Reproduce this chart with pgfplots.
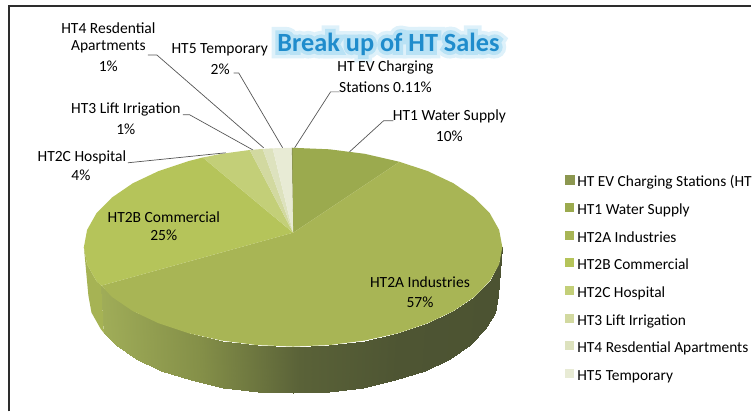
\documentclass[border=0pt]{standalone}
\usepackage{pgfplots}
\usepackage{fontspec}
\setmainfont{Carlito}
\newfontfamily\glowA[BoldFeatures={FakeBold=55}]{Carlito}
\newfontfamily\glowB[BoldFeatures={FakeBold=28}]{Carlito}
\pgfplotsset{compat=1.18}
\definecolor{cEV}{RGB}{140,151,80}
\definecolor{cA}{RGB}{155,170,78}
\definecolor{cB}{RGB}{168,181,85}
\definecolor{cC}{RGB}{181,196,90}
\definecolor{cD}{RGB}{195,207,120}
\definecolor{cE}{RGB}{210,217,160}
\definecolor{cF}{RGB}{221,226,190}
\definecolor{cG}{RGB}{232,235,213}
\definecolor{leader}{RGB}{85,85,85}
\definecolor{frame}{RGB}{45,45,45}
\definecolor{titleblue}{RGB}{31,140,204}
\definecolor{glow}{RGB}{222,241,250}
\definecolor{glowb}{RGB}{185,226,245}
\newcommand{\lab}[3]{\node[align=center,font=\fontsize{15.6}{18}\selectfont,text=black,inner sep=0pt] at (axis cs:#1,#2) {#3};}
\begin{document}
\begin{tikzpicture}
\begin{axis}[
  scale only axis, width=752bp, height=412bp,
  xmin=0, xmax=752, ymin=0, ymax=412, y dir=reverse,
  hide axis, clip=false,
  colormap={side}{rgb255=(160,173,88) rgb255=(132,143,72) rgb255=(90,98,56) rgb255=(78,85,51) rgb255=(76,83,50)},
  point meta min=100, point meta max=500,
  legend style={draw=none, fill=none, at={(axis cs:566,175.5)}, anchor=north west,
     font=\fontsize{15.5}{18}\selectfont, row sep=13.2bp, inner sep=0pt, outer sep=0pt,
     legend cell align=left, nodes={inner sep=0pt, text height=10bp, text depth=3bp}},
  legend image code/.code={\fill[#1] (0bp,-1bp) rectangle (9bp,8bp); \path (12bp,0bp);},
]
\path (axis cs:0,0) rectangle (axis cs:752,412);
% title first, so that its glow lies under the labels
\node[font=\fontsize{26.4}{30}\selectfont\glowA\bfseries,text=glow,inner sep=0pt] at (axis cs:389,44) {Break up of HT Sales};
\node[font=\fontsize{26.4}{30}\selectfont\glowB\bfseries,text=glowb,inner sep=0pt] at (axis cs:389,44) {Break up of HT Sales};
\node[font=\fontsize{26.4}{30}\selectfont\bfseries,text=titleblue,inner sep=0pt] at (axis cs:389,44) {Break up of HT Sales};
% frame
\addplot[frame, line width=2bp, forget plot] coordinates {(9.2,412) (9.2,6.5) (752,6.5)};
% side of HT2B
\addplot[fill={rgb,255:red,166;green,179;blue,84}, draw=none, forget plot] coordinates {
 (84,247.5) (87.2,264.8) (96.6,281.5) (101.5,286) (104.1,333.5) (100.9,329.5) (91.6,313) (88.5,296)} -- cycle;
% side of HT2A
\addplot[surf, shader=interp, mesh/rows=2, point meta=explicit, forget plot] table[meta=m] {
x y m
101.5 286 101.5
112.1 297.3 112.1
133.0 311.5 133
158.8 323.7 158.8
188.8 333.7 188.8
221.9 341.0 221.9
257.1 345.5 257.1
293.5 347 293.5
329.9 345.5 329.9
365.1 341.0 365.1
398.3 333.7 398.3
428.2 323.7 428.2
454.0 311.5 454
474.9 297.3 474.9
490.4 281.5 490.4
499.8 264.8 499.8
503 247.5 503
104.1 333.5 101.5
116 345 112.1
136.5 359 133
161.7 371.1 158.8
191 380.9 188.8
223.4 388.1 221.9
257.9 392.5 257.1
293.5 394 293.5
329.1 392.5 329.9
363.6 388.1 365.1
396 380.9 398.3
425.3 371.1 428.2
450.5 359 454
471 345 474.9
486.1 329.5 490.4
495.4 313 499.8
498.5 296 503
};
% top faces
\addplot[fill=cEV, draw=cEV, line width=0.1bp] coordinates {(293.5,233) (292,148) (293.5,148)} -- cycle;
\addlegendentry{HT EV Charging Stations (HT}
\addplot[fill=cA, draw=none] coordinates {(293.5,233) (293.5,148) (329.9,149.5) (365.1,154) (400,162)} -- cycle;
\addlegendentry{HT1 Water Supply}
\addplot[fill=cB, draw=none] coordinates {(293.5,233) (400,162) (428.2,171.3) (454,183.5) (474.9,197.8) (490.4,213.5) (499.8,230.2) (503,247.5) (499.8,264.8) (490.4,281.5) (474.9,297.3) (454,311.5) (428.2,323.7) (398.3,333.7) (365.1,341) (329.9,345.5) (293.5,347) (257.1,345.5) (221.9,341) (188.8,333.7) (158.8,323.7) (133,311.5) (112.1,297.3) (101.5,286)} -- cycle;
\addlegendentry{HT2A Industries}
\addplot[fill=cC, draw=none] coordinates {(293.5,233) (101.5,286) (96.6,281.5) (87.2,264.8) (84,247.5) (87.2,230.2) (96.6,213.5) (112.1,197.8) (133,183.5) (158.8,171.3) (188.8,161.3) (203,157.7)} -- cycle;
\addlegendentry{HT2B Commercial}
\addplot[fill=cD, draw=none] coordinates {(293.5,233) (203,157.7) (221.9,154) (250,150.2)} -- cycle;
\addlegendentry{HT2C Hospital}
\addplot[fill=cE, draw=none] coordinates {(293.5,233) (250,150.2) (263,149.1)} -- cycle;
\addlegendentry{HT3 Lift Irrigation}
\addplot[fill=cF, draw=none] coordinates {(293.5,233) (263,149.1) (273,148.5)} -- cycle;
\addlegendentry{HT4 Resdential Apartments}
\addplot[fill=cG, draw=none] coordinates {(293.5,233) (273,148.5) (292,148)} -- cycle;
\addlegendentry{HT5 Temporary}
% leaders
\addplot[leader, line width=0.7bp, forget plot] coordinates {(148,55) (157,55) (264,148)};
\addplot[leader, line width=0.7bp, forget plot] coordinates {(234,73) (239,73) (283,148)};
\addplot[leader, line width=0.7bp, forget plot] coordinates {(340,92) (331,92) (295,148)};
\addplot[leader, line width=0.7bp, forget plot] coordinates {(183,115) (190,115) (253,150)};
\addplot[leader, line width=0.7bp, forget plot] coordinates {(394,121) (384,121) (350,152)};
\addplot[leader, line width=0.7bp, forget plot] coordinates {(128,163) (226,153)};
% labels
\lab{108.5}{28}{HT4 Resdential}
\lab{108.5}{47}{Apartments}
\lab{108.5}{66}{1\%}
\lab{220}{50}{HT5 Temporary}
\lab{220.5}{69}{2\%}
\lab{386}{68}{HT EV Charging}
\lab{386}{87}{Stations 0.11\%}
\lab{126}{110}{HT3 Lift Irrigation}
\lab{126}{129}{1\%}
\lab{450}{117}{HT1 Water Supply}
\lab{450}{136}{10\%}
\lab{82}{158}{HT2C Hospital}
\lab{81}{176}{4\%}
\lab{164}{217}{HT2B Commercial}
\lab{164}{236}{25\%}
\lab{420.5}{283}{HT2A Industries}
\lab{420.5}{303}{57\%}
\end{axis}
\end{tikzpicture}
\end{document}
